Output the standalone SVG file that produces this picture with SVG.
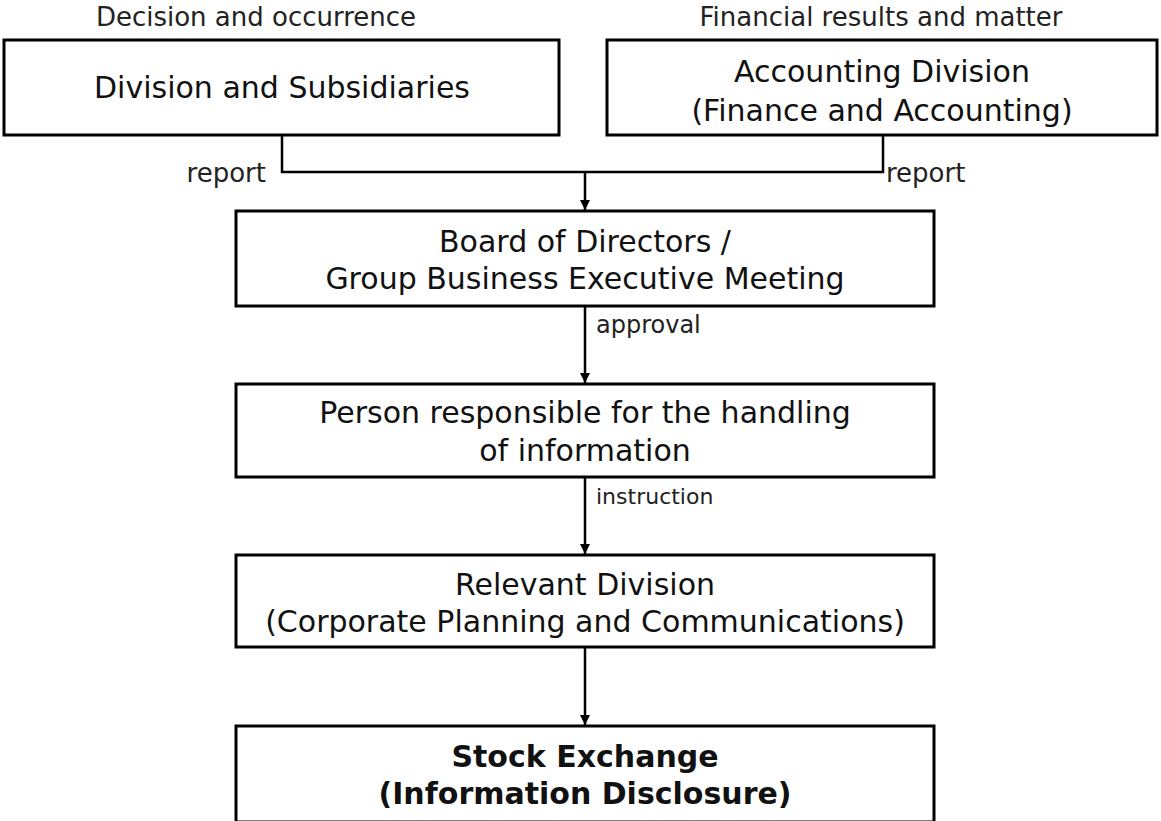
<svg xmlns="http://www.w3.org/2000/svg" width="1161" height="821" viewBox="0 0 1161 821">
<style>
.box{fill:#fff;stroke:#000;stroke-width:3}
.t{font-family:"DejaVu Sans","Liberation Sans",sans-serif;font-size:30px;fill:#111;text-anchor:middle}
.b{font-weight:bold}
.s{font-family:"DejaVu Sans","Liberation Sans",sans-serif;font-size:26px;fill:#222}
.c{fill:none;stroke:#000;stroke-width:2.5}
</style>
<defs>
<marker id="ah" markerWidth="10" markerHeight="12" refX="10" refY="6" orient="auto" markerUnits="userSpaceOnUse">
<path d="M0,1 L10,6 L0,11 Z" fill="#000"/>
</marker>
</defs>
<rect width="1161" height="821" fill="#fff"/>
<text class="s" x="256" y="26" text-anchor="middle">Decision and occurrence</text>
<text class="s" x="881" y="26" text-anchor="middle">Financial results and matter</text>
<g id="connectors">
<polyline class="c" points="282,135 282,172 883,172 883,135"/>
<line class="c" x1="585" y1="172" x2="585" y2="210" marker-end="url(#ah)"/>
<line class="c" x1="585" y1="306" x2="585" y2="383" marker-end="url(#ah)"/>
<line class="c" x1="585" y1="477" x2="585" y2="554" marker-end="url(#ah)"/>
<line class="c" x1="585" y1="647" x2="585" y2="725" marker-end="url(#ah)"/>
<text class="s" x="266" y="182" text-anchor="end">report</text>
<text class="s" x="886" y="182">report</text>
<text class="s" x="596" y="333" style="font-size:24px">approval</text>
<text class="s" x="596" y="504" style="font-size:22px">instruction</text>
</g>
<g id="division">
<rect class="box" x="4" y="40" width="555" height="95"/>
<text class="t" x="282" y="98">Division and Subsidiaries</text>
</g>
<g id="accounting">
<rect class="box" x="607" y="40" width="550" height="95"/>
<text class="t" x="882" y="82">Accounting Division</text>
<text class="t" x="882" y="121">(Finance and Accounting)</text>
</g>
<g id="board">
<rect class="box" x="236" y="211" width="698" height="95"/>
<text class="t" x="585" y="252">Board of Directors /</text>
<text class="t" x="585" y="289">Group Business Executive Meeting</text>
</g>
<g id="person">
<rect class="box" x="236" y="384" width="698" height="93"/>
<text class="t" x="585" y="423">Person responsible for the handling</text>
<text class="t" x="585" y="461">of information</text>
</g>
<g id="relevant">
<rect class="box" x="236" y="555" width="698" height="92"/>
<text class="t" x="585" y="595">Relevant Division</text>
<text class="t" x="585" y="632">(Corporate Planning and Communications)</text>
</g>
<g id="stock">
<rect class="box" x="236" y="726" width="698" height="96"/>
<text class="t b" x="585" y="767">Stock Exchange</text>
<text class="t b" x="585" y="804">(Information Disclosure)</text>
</g>
</svg>
